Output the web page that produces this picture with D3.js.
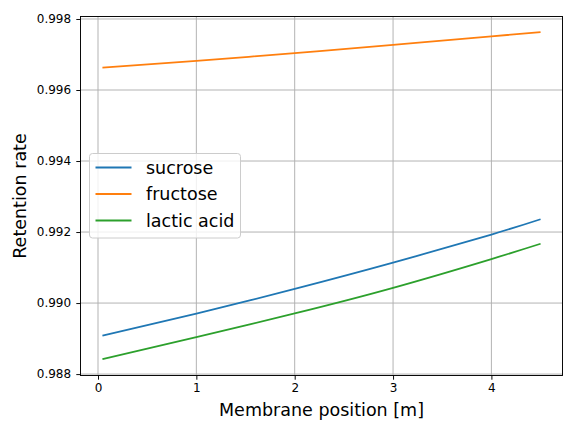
<!DOCTYPE html>
<html>
<head>
<meta charset="utf-8">
<script src="https://cdn.jsdelivr.net/npm/d3@7"></script>
<style>
  body { margin: 0; background: #fff; }
  svg { display: block; font-family: "DejaVu Sans", sans-serif; }
</style>
</head>
<body>
<svg id="chart" width="576" height="432"></svg>
<script>
// Data
const positions = [0.045, 1, 2, 3, 4, 4.5];
const sucrose   = [0.98908, 0.98970, 0.99040, 0.99114, 0.99193, 0.99236];
const fructose  = [0.99663, 0.99682, 0.99704, 0.99727, 0.99751, 0.99763];
const lacticAcid= [0.98842, 0.98904, 0.98971, 0.99043, 0.99124, 0.99167];
const seriesNames = ["sucrose", "fructose", "lactic acid"];
const seriesColors = ["#1f77b4", "#ff7f0e", "#2ca02c"];
const xTicks = [0, 1, 2, 3, 4];
const yTicks = [0.988, 0.990, 0.992, 0.994, 0.996, 0.998];

const seriesValues = [sucrose, fructose, lacticAcid];

const svg = d3.select("#chart");
const m = { left: 80.5, right: 562.5, top: 16.5, bottom: 375.5 };

const x = d3.scaleLinear().domain([-0.178, 4.723]).range([m.left, m.right]);
const y = d3.scaleLinear().domain([0.98796, 0.99807]).range([m.bottom, m.top]);

// grid
const grid = svg.append("g");
grid.selectAll("line.vx").data(xTicks).enter().append("line")
  .attr("x1", d => x(d)).attr("x2", d => x(d))
  .attr("y1", m.top).attr("y2", m.bottom)
  .attr("stroke", "#b0b0b0").attr("stroke-width", 0.96);
grid.selectAll("line.hy").data(yTicks).enter().append("line")
  .attr("y1", d => y(d)).attr("y2", d => y(d))
  .attr("x1", m.left).attr("x2", m.right)
  .attr("stroke", "#b0b0b0").attr("stroke-width", 0.96);

// lines
const line = d3.line()
  .x((d, i) => x(positions[i]))
  .y(d => y(d))
  .curve(d3.curveNatural);

seriesValues.forEach((vals, k) => {
  svg.append("path")
    .datum(vals)
    .attr("d", line)
    .attr("fill", "none")
    .attr("stroke", seriesColors[k])
    .attr("stroke-width", 1.8);
});

// axes
const xAxis = d3.axisBottom(x).tickValues(xTicks).tickFormat(d3.format("d"))
  .tickSize(4.2).tickPadding(4.2);
const yAxis = d3.axisLeft(y).tickValues(yTicks).tickFormat(d3.format(".3f"))
  .tickSize(4.2).tickPadding(5.2);

const gx = svg.append("g").attr("transform", `translate(0,${m.bottom})`).call(xAxis);
const gy = svg.append("g").attr("transform", `translate(${m.left},0)`).call(yAxis);
[gx, gy].forEach(g => {
  g.select(".domain").remove();
  g.selectAll(".tick line").attr("stroke", "#000").attr("stroke-width", 0.96);
  g.selectAll(".tick text").attr("fill", "#000")
    .style("font-family", "DejaVu Sans").style("font-size", "12px");
});

// spines
svg.append("rect")
  .attr("x", m.left).attr("y", m.top)
  .attr("width", m.right - m.left).attr("height", m.bottom - m.top)
  .attr("fill", "none").attr("stroke", "#000").attr("stroke-width", 0.96);

// axis labels
svg.append("text")
  .attr("x", (m.left + m.right) / 2).attr("y", 415.5)
  .attr("text-anchor", "middle")
  .style("font-size", "17.5px").attr("fill", "#000")
  .text("Membrane position [m]");

svg.append("text")
  .attr("transform", `translate(26,${(m.top + m.bottom) / 2}) rotate(-90)`)
  .attr("text-anchor", "middle")
  .style("font-size", "17.5px").attr("fill", "#000")
  .text("Retention rate");

// legend
const lg = svg.append("g");
lg.append("rect")
  .attr("x", 89.5).attr("y", 153.5)
  .attr("width", 151).attr("height", 84.5)
  .attr("rx", 3).attr("ry", 3)
  .attr("fill", "#fff").attr("fill-opacity", 0.8)
  .attr("stroke", "#cccccc").attr("stroke-width", 1);
const rowY = [167.5, 194, 220.5];
seriesNames.forEach((name, k) => {
  lg.append("line")
    .attr("x1", 95.5).attr("x2", 131.5)
    .attr("y1", rowY[k]).attr("y2", rowY[k])
    .attr("stroke", seriesColors[k]).attr("stroke-width", 1.8);
  lg.append("text")
    .attr("x", 146).attr("y", rowY[k] + 6)
    .style("font-size", "17.5px").attr("fill", "#000")
    .text(name);
});
</script>
</body>
</html>
